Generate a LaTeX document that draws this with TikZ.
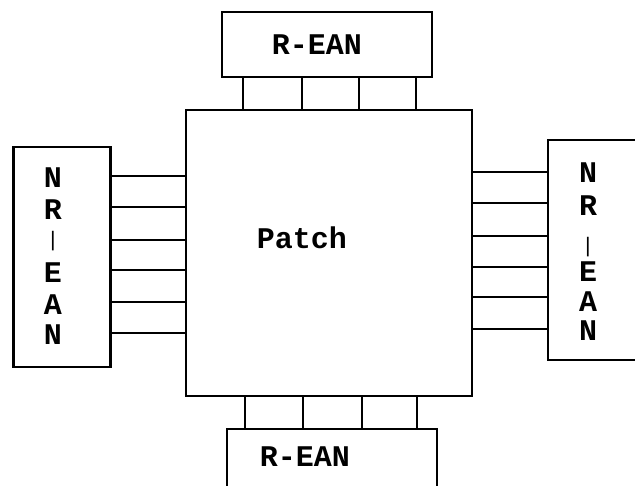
\documentclass[tikz,border=0pt]{standalone}
\usepackage{fontspec}
\setmainfont{Liberation Mono}
\tikzset{
  box/.style={draw, line width=2.1pt, rectangle, inner sep=0pt},
  link/.style={line width=2.1pt},
  lbl/.style={font=\fontsize{30}{31}\selectfont\bfseries, inner sep=0pt, anchor=center},
  barlbl/.style={font=\fontsize{21}{22}\selectfont, inner sep=0pt, anchor=center},
}
\begin{document}
\begin{tikzpicture}[x=1pt,y=-1pt]
\useasboundingbox (0,0) rectangle (635,486);
% boxes
\node[box, minimum width=286pt, minimum height=286pt] (patch) at (329,253) {};
\node[box, minimum width=210pt, minimum height=65pt] (tr) at (327,44.5) {};
\node[box, minimum width=210pt, minimum height=80pt] (br) at (332,469) {};
\node[box, minimum width=97pt, minimum height=220pt] (ln) at (62,257) {};
\node[box, minimum width=120pt, minimum height=220pt] (rn) at (608,250) {};
% labels
\node[lbl] (tlab) at (317,45) {R-EAN};
\node[lbl] (blab) at (305,457) {R-EAN};
\node[lbl] (plab) at (302,238) {Patch};
\foreach \ch/\yy [count=\i] in {N/178,R/210,E/273,A/305,N/335}{
  \node[lbl] (la\i) at (53,\yy) {\ch};
}
\node[barlbl] (lbar) at (53,241) {|};
\foreach \ch/\yy [count=\i] in {N/173,R/206,E/272,A/302,N/331}{
  \node[lbl] (ra\i) at (588,\yy) {\ch};
}
\node[barlbl] (rbar) at (588,247) {|};
% links top
\foreach \xx in {243,302,359,416}{
  \draw[link] (tr.south -| {\xx,0}) -- (patch.north -| {\xx,0});
}
% links bottom
\foreach \xx in {245,303,362,417}{
  \draw[link] (patch.south -| {\xx,0}) -- (br.north -| {\xx,0});
}
% links left
\foreach \yy in {176,207,240,270,302,333}{
  \draw[link] (ln.east |- {0,\yy}) -- (patch.west |- {0,\yy});
}
% links right
\foreach \yy in {172,203,236,267,297,329}{
  \draw[link] (patch.east |- {0,\yy}) -- (rn.west |- {0,\yy});
}
\end{tikzpicture}
\end{document}
